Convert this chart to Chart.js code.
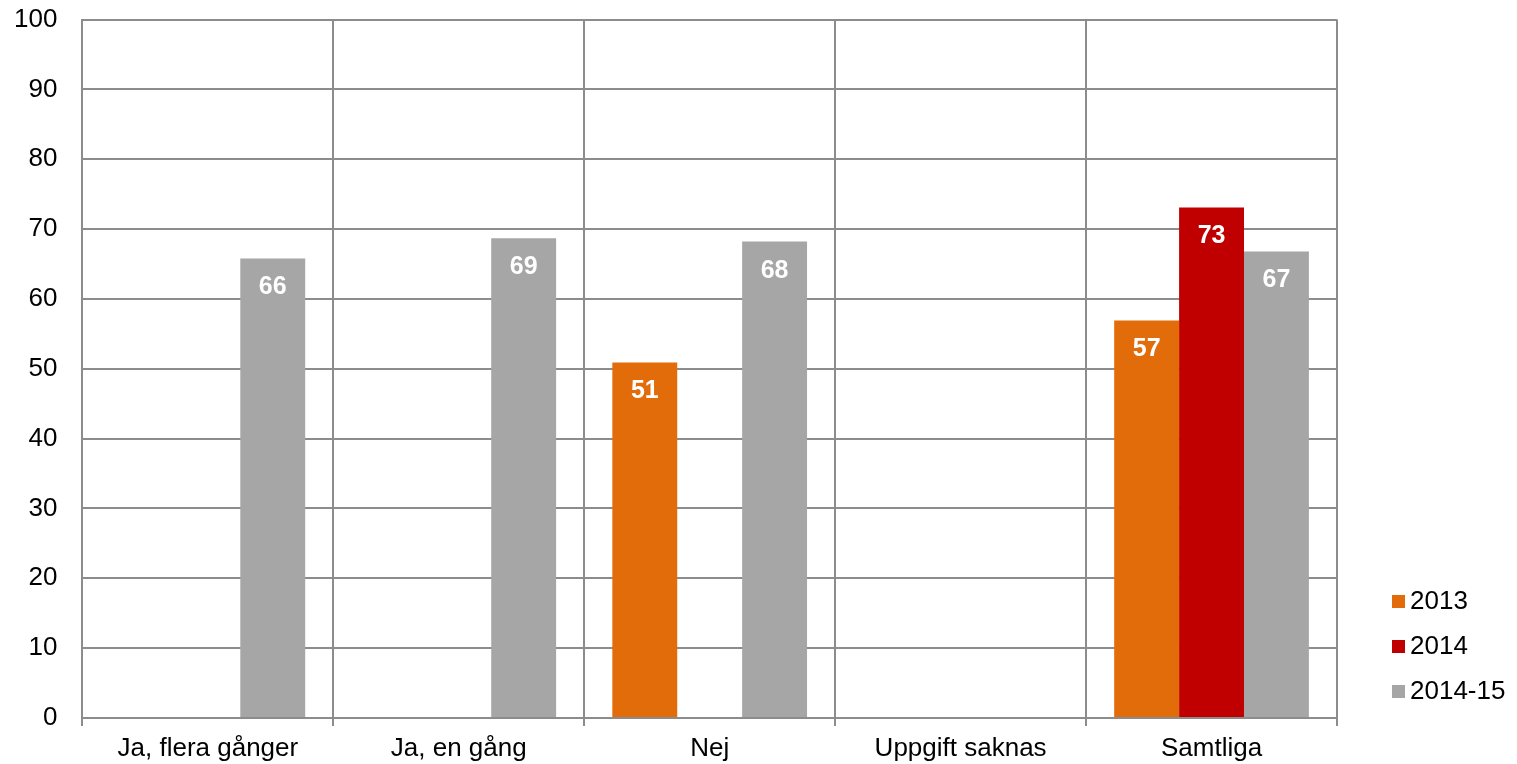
<!DOCTYPE html>
<html>
<head>
<meta charset="utf-8">
<script src="https://cdn.jsdelivr.net/npm/chart.js@4"></script>
<style>
  html, body { margin: 0; padding: 0; background: #fff; }
  #wrap { width: 1517px; height: 764px; }
</style>
</head>
<body>
<div id="wrap"><canvas id="chart"></canvas></div>
<script>
// Data ---
const categories = ['Ja, flera gånger', 'Ja, en gång', 'Nej', 'Uppgift saknas', 'Samtliga'];
const seriesLabels = ['2013', '2014', '2014-15'];
const values2013 = [null, null, 50.9, null, 56.9];
const values2014 = [null, null, null, null, 73.1];
const values201415 = [65.8, 68.7, 68.2, null, 66.8];
const yTicks = [0, 10, 20, 30, 40, 50, 60, 70, 80, 90, 100];

const fontFamily = 'Arial, "Liberation Sans", sans-serif';
const gridColor = '#8c8c8c';

// White bold value inside the top of each bar
const barLabels = {
    id: 'barLabels',
    afterDatasetsDraw(chart) {
        const ctx = chart.ctx;
        ctx.save();
        ctx.font = 'bold 25px ' + fontFamily;
        ctx.fillStyle = '#ffffff';
        ctx.textAlign = 'center';
        ctx.textBaseline = 'middle';
        chart.data.datasets.forEach(function(ds, i) {
            chart.getDatasetMeta(i).data.forEach(function(bar, j) {
                const v = ds.data[j];
                if (v === null || v === undefined) return;
                ctx.fillText(Math.round(v), bar.x, bar.y + 29);
            });
        });
        ctx.restore();
    }
};

// Legend at the bottom right, beside the plot
const sideLegend = {
    id: 'sideLegend',
    afterDraw(chart) {
        const ctx = chart.ctx;
        const area = chart.chartArea;
        const n = chart.data.datasets.length;
        const step = 45;
        const x = area.right + 55;
        ctx.save();
        ctx.font = '26px ' + fontFamily;
        ctx.textBaseline = 'middle';
        ctx.textAlign = 'left';
        chart.data.datasets.forEach(function(ds, i) {
            const y = area.bottom - 27 - (n - 1 - i) * step;
            ctx.fillStyle = ds.backgroundColor;
            ctx.fillRect(x, y - 6, 13, 13);
            ctx.fillStyle = '#000';
            ctx.fillText(ds.label, x + 18, y + 1);
        });
        ctx.restore();
    }
};

new Chart(document.getElementById('chart').getContext('2d'), {
    type: 'bar',
    data: {
        labels: categories,
        datasets: [{
            label: seriesLabels[0],
            data: values2013,
            backgroundColor: '#e36c0a'
        }, {
            label: seriesLabels[1],
            data: values2014,
            backgroundColor: '#c00000'
        }, {
            label: seriesLabels[2],
            data: values201415,
            backgroundColor: '#a6a6a6'
        }]
    },
    options: {
        responsive: true,
        maintainAspectRatio: false,
        animation: false,
        datasets: {
            bar: {
                categoryPercentage: 0.776,
                barPercentage: 1.0
            }
        },
        layout: {
            padding: { top: 19.5, right: 180, bottom: 0, left: 14 }
        },
        plugins: {
            tooltip: { enabled: false },
            legend: { display: false }
        },
        scales: {
            x: {
                afterFit: function(scale) { scale.height = 46; },
                grid: {
                    color: gridColor,
                    lineWidth: 2,
                    tickLength: 8,
                    offset: true
                },
                border: { color: gridColor, width: 2 },
                ticks: {
                    color: '#000',
                    padding: 7,
                    font: { size: 26, family: fontFamily }
                }
            },
            y: {
                min: 0,
                max: 100,
                afterBuildTicks: function(axis) {
                    axis.ticks = yTicks.map(v => ({ value: v }));
                },
                grid: {
                    color: gridColor,
                    lineWidth: 2,
                    drawTicks: true,
                    tickLength: 25,
                    tickColor: 'rgba(0,0,0,0)'
                },
                border: { color: gridColor, width: 2 },
                ticks: {
                    color: '#000',
                    padding: 0,
                    font: { size: 26, family: fontFamily }
                }
            }
        }
    },
    plugins: [barLabels, sideLegend]
});
</script>
</body>
</html>
